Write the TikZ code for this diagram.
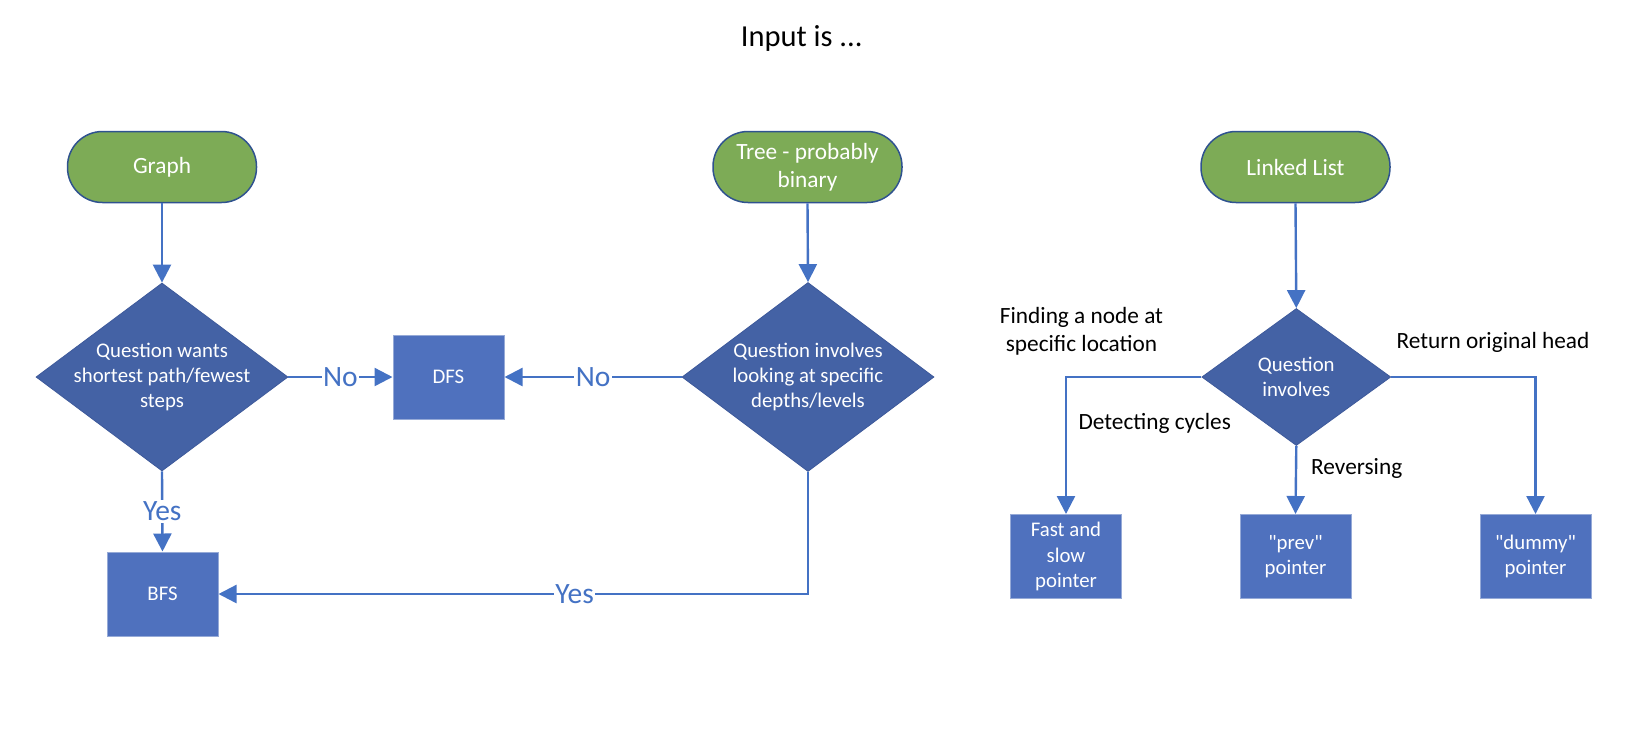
\documentclass[tikz,border=0pt]{standalone}
\usepackage{fontspec}
\setmainfont{Carlito}[Ligatures=TeXOff]
\usetikzlibrary{shapes.geometric,arrows.meta}
\definecolor{termgreen}{RGB}{125,171,86}
\definecolor{termborder}{RGB}{47,82,143}
\definecolor{diafill}{RGB}{68,98,165}
\definecolor{diadraw}{RGB}{62,90,155}
\definecolor{boxfill}{RGB}{79,113,190}
\definecolor{boxdraw}{RGB}{150,170,215}
\definecolor{linecol}{RGB}{68,114,196}
\begin{document}
\begin{tikzpicture}[x=1pt,y=-1pt,
  term/.style={rectangle, rounded corners=35pt, fill=termgreen, draw=termborder, line width=1.5pt,
    minimum width=189pt, minimum height=71pt, inner sep=0pt, align=center, text=white,
    font=\fontsize{23.3}{28.4}\selectfont},
  dia/.style={diamond, fill=diafill, draw=diadraw, line width=0.8pt, inner sep=0pt},
  diatext/.style={text=white, align=center, inner sep=0pt, font=\fontsize{20.8}{25.4}\selectfont},
  procbox/.style={rectangle, fill=boxfill, draw=boxdraw, line width=1pt, minimum width=111pt,
    minimum height=84pt, inner sep=0pt, text=white, align=center, font=\fontsize{20.8}{25.4}\selectfont},
  conn/.style={draw=linecol, line width=2.4pt, -{Triangle[length=18pt,width=18pt]}},
  yn/.style={fill=white, text=linecol, inner sep=1.5pt, font=\fontsize{29.5}{34}\selectfont},
  lbl/.style={text=black, align=center, inner sep=0pt, font=\fontsize{23.3}{28.4}\selectfont}
]
\useasboundingbox (0,0) rectangle (1640,732);

% title
\node[font=\fontsize{30.5}{36}\selectfont] (title) at (801.7,38.7) {Input is ...};

% left: graph
\node[term] (graph) at (162,167) {Graph};
\node[dia, minimum width=252pt, minimum height=188pt,
  label={[diatext]center:{Question wants\\shortest path/fewest\\steps}}] (d1) at (162,377) {};
\node[procbox] (dfs) at (448.5,377) {DFS};
\node[procbox] (bfs) at (162.5,594) {BFS};

% middle: tree
\node[term] (tree) at (807.5,167) {Tree - probably\\binary};
\node[dia, minimum width=252pt, minimum height=189pt,
  label={[diatext]center:{Question involves\\looking at specific\\depths/levels}}] (d2) at (808,377) {};

% right: linked list
\node[term] (ll) at (1295.5,167) {Linked List};
\node[dia, minimum width=189pt, minimum height=137pt,
  label={[diatext]center:{Question\\involves}}] (d3) at (1296.3,377) {};
\node[procbox] (fast) at (1066,556.5) {Fast and\\slow\\pointer};
\node[procbox] (prev) at (1295.5,556.5) {"prev"\\pointer};
\node[procbox] (dummy) at (1535.5,556.5) {"dummy"\\pointer};

% labels
\node[lbl] (lfind) at (1081.5,331.5) {Finding a node at\\specific location};
\node[lbl] (lret) at (1493,342.3) {Return original head};
\node[lbl] (ldet) at (1154.7,423.3) {Detecting cycles};
\node[lbl] (lrev) at (1356.7,468.3) {Reversing};

% connectors
\draw[conn] (graph.south) -- (d1.north);
\draw[conn] (d1.east) -- node[yn]{No} (dfs.west);
\draw[conn] (d1.south) -- node[yn]{Yes} (bfs.north);
\draw[conn] (tree.south) -- (d2.north);
\draw[conn] (d2.west) -- node[yn]{No} (dfs.east);
\draw[conn] (d2.south) |- node[yn,pos=0.698]{Yes} (bfs.east);

\draw[conn] (ll.south) -- (d3.north);
\draw[conn] (d3.west) -| (fast.north);
\draw[conn] (d3.south) -- (prev.north);
\draw[conn] (d3.east) -| (dummy.north);
\end{tikzpicture}
\end{document}
